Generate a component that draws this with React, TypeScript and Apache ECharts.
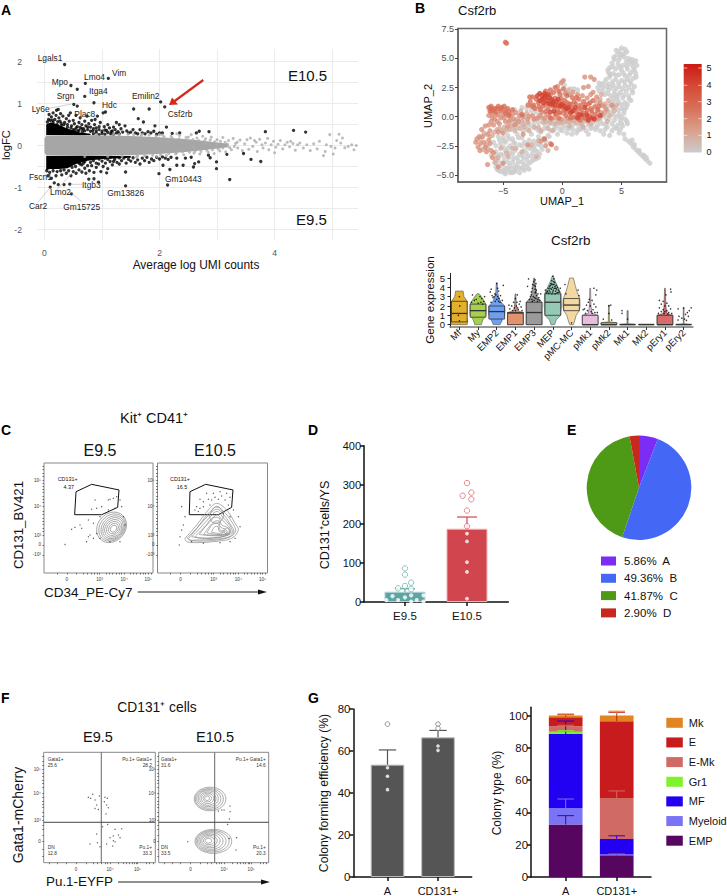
import React, { useEffect, useRef } from "react";
import * as echarts from "echarts";

const FONT = "Liberation Sans, Arial, sans-serif";

// ---------- Panel A ----------
const maGrayBand = [[0,.16,-.16],[.03,.24,-.24],[.6,.25,-.25],[1.5,.23,-.23],[2,.2,-.2],[2.5,.15,-.15],[2.9,.09,-.09],[3.2,.04,-.04]];
const maBlackUpper = [[.03,.25,.5],[.1,.25,.55],[.2,.25,.52],[.32,.25,.45],[.45,.25,.38],[.62,.25,.31],[.8,.25,.28]];
const maBlackLower = [[.03,-.25,-.58],[.1,-.25,-.56],[.25,-.25,-.56],[.4,-.25,-.54],[.55,-.25,-.44],[.75,-.25,-.36],[1,-.25,-.32],[1.5,-.25,-.29]];
const maGrayDots = [2.05,.25,2.12,-.24,2.2,.22,2.28,-.2,2.35,.24,2.42,-.22,2.5,.2,2.55,.26,2.6,-.18,2.65,.18,2.7,-.2,2.75,.22,2.8,.16,2.85,-.16,2.9,.2,2.95,-.19,3,.14,3.05,-.13,3.1,.19,3.15,-.15,3.2,.12,3.25,-.1,3.28,.17,3.32,.05,3.36,-.06,3.4,.13,3.44,-.12,3.48,.04,3.52,.14,3.55,-.09,3.58,.18,3.62,-.02,3.65,.12,3.68,.08,3.7,-.14,3.74,.15,3.78,.02,3.8,-.06,3.84,.06,3.88,.17,3.9,-.1,3.94,.02,3.98,.1,4.0,-.17,4.02,-.04,4.06,.03,4.1,.12,4.14,-.08,4.18,.02,4.22,.08,4.26,-.03,4.28,.1,4.32,.05,4.36,-.11,4.4,.02,4.44,.06,4.5,-.06,4.56,.02,4.62,-.12,4.68,.04,4.74,-.08,4.78,.1,4.85,-.24,4.88,-.14,4.9,.02,4.96,.26,4.98,-.02,5.02,-.2,5.05,-.06,5.08,.12,5.12,.27,5.15,.06,5.18,.18,5.22,-.05,5.28,-.02,5.34,.02,5.38,-.1,5.42,0,1.95,-.26,1.7,.27,2.3,.28,2,.26,1.6,-.27,1.3,.26,
1.55,.26,1.62,-.25,1.68,.24,1.74,-.24,1.82,.25,1.88,-.23,1.94,.23,2.02,-.22,2.08,.21,2.16,-.19,2.22,.18,2.3,-.17,2.34,.16,2.4,-.15,2.46,.19,2.52,-.16,2.58,.14,2.62,-.13,2.68,.12,2.72,-.14,2.78,.11,2.82,-.11,2.88,.13,2.92,-.1,2.96,.09,3.02,-.08,3.06,.1,3.1,-.06,3.14,.08,3.18,.03,3.22,-.05,3.3,-.02,3.35,.08,2.15,.12,2.4,.08,2.6,-.05,2.8,.05,3.0,.02,1.2,.27,1.35,-.26,1.45,.27,1.1,-.26,.9,.26,.7,-.26];
const maBlackDots = [.35,1.93,1.11,1.6,.71,1.48,.46,1.43,.57,1.34,.7,1.17,.86,1.02,2.02,1.04,2.09,.92,.51,.98,.57,.94,1.55,.87,1.82,.87,.21,.84,.24,.86,1.63,.64,1.72,.56,1.92,.47,2.12,.44,2.86,.33,2.69,.34,2.64,.3,3.84,.33,4.33,.36,4.54,.32,2.35,.3,2.22,.29,2.05,.3,
.08,.74,.1,.6,.12,.68,.15,.55,.18,.62,.2,.72,.22,.5,.25,.66,.27,.58,.3,.48,.32,.7,.35,.55,.38,.64,.4,.5,.43,.58,.45,.78,.47,.47,.5,.6,.52,.52,.55,.72,.57,.45,.6,.55,.62,.43,.65,.5,.68,.4,.7,.58,.72,.47,.75,.38,.77,.52,.8,.44,.82,.6,.84,.35,.87,.5,.9,.42,.92,.7,.95,.38,.97,.55,1,.34,1.02,.78,1.04,.45,1.06,.8,1.08,.36,1.1,.5,1.13,.42,1.16,.33,1.2,.44,1.23,.38,1.25,.55,1.28,.33,1.3,.5,1.33,.4,1.36,.32,1.4,.47,1.43,.35,1.46,.3,1.5,.32,1.54,.38,1.58,.3,1.62,.28,1.66,.38,1.7,.3,1.75,.28,1.8,.33,1.85,.3,1.9,.34,1.95,.27,2,.3,.85,.28,.9,.3,.95,.26,1,.29,1.05,.27,1.1,.31,1.15,.28,1.2,.27,1.25,.3,1.3,.28,.5,.38,.55,.42,.6,.36,.65,.4,.7,.35,.75,.44,.8,.34,.85,.4,.9,.35,.95,.45,1.05,.37,1.18,.35,.15,.78,.28,.76,.42,.72,.62,.66,.74,.7,.88,.62,.05,.56,.07,.62,.14,.6,.23,.57,.29,.53,.34,.5,.4,.44,.46,.42,.53,.37,.58,.35,.66,.33,
2.14,-.94,1.41,-.96,3.22,-.81,1.99,-.67,1.41,-.63,2.18,-.57,2.99,-.55,2.99,-.39,2.85,-.23,2.88,-.29,3.17,-.21,3.46,-.19,3.59,-.33,3.76,-.38,2.59,-.51,2.68,-.39,2.61,-.43,2.41,-.47,2.3,-.47,2.15,-.33,2.06,-.47,.44,-.92,.34,-.93,.24,-.93,.17,-.89,.1,-.99,.47,-1.15,.77,-.8,.86,-.79,.94,-.87,1.08,-.65,
.06,-.72,.12,-.78,.2,-.72,.3,-.7,.38,-.66,.46,-.72,.5,-.62,.55,-.66,.6,-.58,.65,-.63,.7,-.54,.72,-.66,.78,-.6,.82,-.48,.86,-.64,.9,-.52,.94,-.44,.98,-.62,1.02,-.5,1.06,-.42,1.1,-.55,1.14,-.38,1.18,-.46,1.22,-.33,1.26,-.4,1.3,-.44,1.34,-.36,1.38,-.3,1.42,-.42,1.46,-.33,1.5,-.37,1.54,-.29,1.58,-.4,1.62,-.34,1.66,-.44,1.7,-.3,1.74,-.36,1.78,-.28,1.82,-.4,1.86,-.32,1.9,-.36,1.95,-.28,2,-.32,2.05,-.27,2.1,-.3,2.2,-.28,2.3,-.3,.6,-.42,.65,-.46,.7,-.38,.75,-.48,.8,-.4,.85,-.36,.9,-.42,.95,-.32,1,-.37,1.05,-.3,1.1,-.33,1.15,-.28,1.2,-.38,1.3,-.29,2.45,-.3,2.55,-.28,.04,-.6,.09,-.64,.15,-.6,.22,-.62,.28,-.6,.34,-.58,.42,-.6,.48,-.52,.54,-.5,.62,-.44,.68,-.42];
const geneLabels = [["Lgals1",37.7,58],["Vim",112,73],["Lmo4",84,77],["Mpo",51.7,82],["Itga4",89,91],["Srgn",56.7,96],["Emilin2",132,95.7],["Hdc",102,105],["Ly6e",31.7,109],["Plac8",74.3,113.7],["Csf2rb",167.7,114],["Fscn1",29,177],["Itgb3",82,185],["Lmo2",50,192],["Gm13826",107.3,193],["Car2",29,206],["Gm15725",63.3,206.7],["Gm10443",165,178.7]];

// ---------- Panel B UMAP (flat x,y pairs per expression level) ----------
const umapZero = [5.0,5.9,5.3,5.8,4.8,5.6,5.2,5.4,4.6,5.3,5.6,5.0,4.9,5.1,4.4,4.9,5.9,4.9,6.2,4.8,5.4,4.7,4.2,4.6,4.7,4.5,5.1,4.4,5.8,4.5,6.3,4.4,6.0,4.2,4.0,4.2,4.5,4.1,5.0,4.0,5.5,4.1,3.9,3.8,4.3,3.7,4.8,3.6,5.3,3.5,5.8,3.8,6.2,3.7,6.0,3.3,5.5,3.2,5.0,3.1,4.5,3.2,4.0,3.4,3.7,3.2,3.5,2.9,3.9,2.8,4.3,2.7,4.8,2.6,5.3,2.7,5.8,2.8,6.1,2.6,5.9,2.3,5.4,2.2,4.9,2.1,4.4,2.2,3.9,2.3,3.4,2.5,3.1,2.9,3.1,2.2,3.6,1.9,4.1,1.8,4.6,1.7,5.1,1.6,5.6,1.8,5.8,1.4,5.3,1.2,4.8,1.2,4.3,1.3,4.5,.8,5,.7,5.4,.8,5.2,.3,4.8,.2,5.3,-.2,4.9,-.3,5.5,-.6,5.1,-.8,4.7,-.7,4.4,-.3,
4.6,-1,4.2,-1.2,3.8,-.9,4.8,-1.4,5.2,-1.5,4,-1.6,3.5,-1.5,3.2,-1.2,3,-.7,3.4,-.6,2.8,-1.1,5.3,-1.9,5.6,-2.1,5.8,-2.3,6,-2.6,6.2,-2.8,6.4,-3,6.6,-3.2,6.8,-3.4,7,-3.6,7.2,-3.8,7.4,-4,5.9,-2,6.1,-2.4,6.5,-2.9,6.9,-3.3,7.1,-3.5,
2.6,-.5,2.2,-.7,1.8,-.4,1.4,-.8,1,-.6,.6,-1,.2,-.7,-.2,-1.1,-.6,-.9,-1,-1.2,-1.4,-.8,-1.8,-1.3,-2.2,-1,-2.6,-1.5,-3,-1.1,2,-1.2,1.2,-1.4,.4,-1.4,-.4,-1.5,2.4,-1,1.6,-1,.9,-1.1,0,-1.2,-.8,-.6,-1.2,-.3,-1.6,-.2,-2,-.5,-2.4,-.3,-2.8,-.6,-3.2,-.3,-3.6,-.7,-4,-.4,
-5.8,-2.2,-5.4,-1.7,-5,-1.8,-4.6,-1.6,-4.2,-1.9,-3.8,-1.5,-3.4,-1.8,-5.2,-2.3,-4.8,-2.2,-4.4,-2.5,-4,-2.3,-3.6,-2.4,-3.2,-2.2,-2.8,-2,-2.4,-2.1,-2,-1.7,-1.6,-1.9,-1.2,-1.6,-5.6,-3,-5.2,-3.2,-4.8,-2.9,-4.4,-3.1,-4,-2.9,-3.6,-3.2,-3.2,-2.9,-2.8,-2.7,-2.4,-2.6,-2,-2.4,-4.9,-3.7,-4.5,-3.5,-4.1,-3.6,-3.7,-3.8,-3.3,-3.5,-2.9,-3.4,-2.5,-3.1,-2.1,-3,-1.7,-2.8,-5.6,-4,-5.2,-4.2,-4.8,-4.4,-4.4,-4.2,-4,-4.3,-3.6,-4.4,-3.2,-4.1,-2.8,-4,-2.4,-3.7,-2,-3.5,-5.2,-4.7,-4.8,-4.9,-4.4,-4.8,-4,-4.7,-3.6,-4.8,-3.2,-4.6,-2.8,-4.5,-5.5,-4.5,-4.6,-4.6,-3.9,-4.5,-5,-2.6,-6,-3.3,
-4,.6,-3.4,.8,-3,.7,-2.6,.5,-3.2,.1,-2.2,.4,-1.8,.2,.7,2.4,1,2.4,1.3,2.3,0,3,.2,2.7,-.2,2.2,.1,1.9,3,1.5,3.3,1,3.6,.4,3.9,.9,4.1,.4,3.7,-.1,4.2,-.6,3.4,.2,4.4,1.9,4,1.1,1.5,-1.1,2.2,-1.5,.8,-1.5,-1.1,-1.7,-4.7,-1.2,-4.1,-.9,-3.3,-1.2,
4.55,5.7,5.45,5.55,4.95,5.35,4.35,5.1,4.75,4.85,5.25,5.1,5.7,4.75,6.05,4.6,5.45,4.35,4.85,4.25,4.25,4.3,3.85,4,4.05,3.6,4.55,3.55,5.15,3.75,5.65,3.55,6.1,4,6.25,3.4,5.75,3.05,5.25,3,4.75,2.9,4.25,3,3.75,2.6,4.1,2.5,4.55,2.45,5.1,2.4,5.6,2.5,5.95,2.05,5.65,1.55,5.2,1.85,4.75,1.9,4.3,1.6,3.85,2,3.45,2.2,3.3,2.75,3,2.5,5.5,1.05,5.05,1,4.65,1.45,4.2,.95,4.75,.55,5.25,.55,5,-.05,5.45,-.4,4.6,0,4.3,.15,3.95,-.2,4.4,-.9,4.9,-1.1,5,-.55,3.6,-1.1,3.2,-.4,3.7,-.7,2.9,-.9,2.5,-.85,2.1,-.45,
1.7,-.75,1.3,-1.15,.8,-.8,.4,-1,0,-.9,-.4,-.75,-.7,-1.1,-1.15,-.65,-1.55,-1.05,-2,-1.2,-2.4,-.65,-2.8,-.9,-3.1,-.6,-3.5,-.2,-3.9,-.95,-4.2,-.6,
-5.6,-2.5,-5.3,-2,-4.9,-2.05,-4.5,-1.9,-4.1,-2.2,-3.7,-1.8,-3.4,-2.5,-3,-2.5,-2.6,-2.7,-2.2,-2.3,-1.8,-2.5,-1.4,-2.1,-5.5,-3.3,-5,-3.3,-4.6,-2.7,-4.2,-3.2,-3.8,-3.5,-3.4,-3.3,-3,-3.15,-2.6,-3.4,-2.3,-2.85,-1.9,-3.2,-5.4,-3.8,-5,-4,-4.6,-3.9,-4.2,-3.9,-3.8,-4.1,-3.4,-3.9,-3,-3.7,-2.6,-3.85,-2.2,-3.6,-5.6,-4.3,-5,-4.6,-4.6,-4.4,-4.2,-4.5,-3.4,-4.4,-3,-4.3,-5.4,-4.6,-4.9,-4.8,-4.2,-4.8];
const umapLow = [-6.9,-1.9,-6.6,-1.4,-6.3,-2.7,-5.7,-1.3,-5.3,-1,-4.9,-.9,-4.4,-1.1,-4,-1.2,-3.6,-1,-3.2,-.9,-2.8,-1.2,-2.4,-.9,-2,-.9,-1.6,-.5,-1.2,-1,-.8,-1.2,-.4,-.4,0,-.5,.4,-.4,.8,-.3,1.2,-.5,1.6,-.6,2,-.2,2.4,-.6,2.8,-.3,3.2,-.1,3.6,.3,4,.1,4.4,.5,4.6,1,3.9,1.4,3.3,1.9,2.9,1.2,-5.6,-3.6,-5.2,-2.7,-4.6,-3.4,-4.2,-2.7,-3.4,-3,-2.6,-2.4,-2.2,-3.4,-1.8,-1.2,-3.8,-.2,-3.4,-.4,-4.4,-.3,.6,-.8,1.8,-.9,3.8,-.4,.5,2.3,-3,.3,-2.4,.8,-3.5,.5,
-6.7,-2.8,-6.4,-2.4,-6.1,-1.7,-5.9,-1.6,-5.5,-1.1,-5.1,-1.2,-4.7,-1.05,-4.3,-.8,-3.9,-.6,-3.3,-.7,-2.9,-.5,-2.2,-.2,-1.8,-.1,-1.4,-.4,-1,-.5,-.6,-.6,-.2,-.5,.2,-.3,.6,-.45,1,-.35,1.4,-.2,1.8,-.25,2.2,-.35,2.6,-.2,3,-.2,3.4,.1,3.8,.5,4.3,.8,3.6,1.1,3.2,1.5,.3,2.1,-.5,-2.7,-1.2,-2.9,-2,-2.05,-3.9,-2.7,-4.7,-3.1,-5.4,-3.5,-5.7,-3.9];
const umapMid = [-7.3,-2.2,-7.1,-2.6,-6.9,-2.3,-7,-1.7,-6.8,-1.1,-6.5,-.8,-6.6,-2.2,-6.2,-2,-6.4,-3,-6,-2.9,-5.9,-3.5,-6.1,-1.2,-5.8,-.7,-5.5,-.4,-5.9,-.1,-6.2,.1,-6,.4,-5.6,.2,-5.2,-.1,-4.8,-.4,-4.4,0,-4,-.7,-3.6,.1,-5.4,-1.3,-5,-1.4,-4.6,-.8,-6.3,-4.1,-5.4,-4.3,-5,-4,-3.3,-1.5,-2.9,-.2,-2.5,.1,-2.1,-.1,-1.7,.4,-1.3,.2,-.9,-.2,-.5,.2,-.1,-.2,-1,-2.3,-1.4,-2.5,-2.9,-2.4,-1.8,-2.1,3,.5,3.5,.9,4.2,1,2.6,2.1,2.2,2.6,1.8,2.5,2.7,3.2,1.9,3.4,2.4,3.4,-.1,2.9,.1,3.1,-.4,2.6,.6,1.9,
-7.2,-1.9,-6.95,-2.9,-6.7,-1.7,-6.5,-2.6,-6.3,-1.5,-6.1,-2.3,-5.8,-3.1,-6.2,-.7,-6,-.4,-5.7,-.2,-5.3,-.6,-4.9,-.1,-4.5,-.4,-4.1,-.2,-3.7,-.4,-5.9,.2,-5.4,.15,-5,.15,-4.6,.1,-4.2,.2,-3.9,.35,-3.3,0,-2.8,.05,-2.4,-.2,-1.9,.1,-1.5,-.1,-1.1,.05,-.7,-.1,-.3,.35,.1,.3,.5,-.1,.9,-.05,1.7,0,2.1,-.05,2.5,.3,2.9,-.05,3.3,.35,3.7,.65,2.9,1.7,2.4,1.9,3.2,1.2,.3,2,.9,2.1,1.3,1.9,1.7,1.8,2.1,1.6];
const umapHigh = [-6.2,.8,-6,.9,-5.7,.7,-5.4,.9,-5.1,.8,-4.9,.9,-4.6,.7,-6.1,.5,-5.6,.4,-5.2,.5,-4.8,.3,-4.5,.4,-4.2,.6,-2,1.2,-2.4,1,-2.7,1.3,-2.2,1.5,-2.5,1.7,-1.6,.9,-1.2,.7,-.8,.9,-.4,.6,0,.8,.4,.5,.8,.7,1.2,.4,1.6,.6,2,.3,2.4,.7,2.8,.2,3.1,.9,2.6,1.4,2.2,1.1,1.8,1.3,1.4,1.5,1,1.3,.6,1.1,.2,1.4,-.2,1.2,-.6,1.6,-1,1.9,-.6,2.5,-.3,2.2,.1,2.4,-1.4,2.2,.7,-.1,1.1,0,1.5,-.3,1.9,-.1,2.3,0,.3,.1,-.3,-.1,-1,-.1,-4.8,6.4,-4.7,6.3,-1.5,-1.9,-.9,-2.4,
-6,.7,-5.8,.55,-5.5,.7,-5.2,.7,-4.85,.55,-4.5,.15,-3.4,.2,-2.9,1,-2.6,.9,-2.3,.7,-1.95,.85,-1.4,1.1,-1.05,1.05,-.75,1.25,-.35,1,.05,1.1,.4,1.2,.75,1.05,1.15,1.1,1.55,1,1.95,1,2.35,1.2,2.75,.85,3,.6,2.5,.5,2.1,.55,1.75,.3,1.4,.75,1,.55,.6,.6,.15,.55,-.2,.35,-.6,.25,-1.4,.45,-1.85,.6,-2.75,1.7,-.2,1.9,.4,1.8,-.7,2.1,-1,2.3,-.1,1.55,.85,1.65,1.2,1.65];
const umapTop = [-1.9,2,-1.7,1.8,-1.5,1.6,-1.3,1.4,-1.6,1.2,-1.2,1.9,-.9,1.5,-.9,1.1,-.5,1.3,-.7,.5,-.2,.9,.2,.9,.7,.3,1.1,.8,1.4,.2,1.9,.8,2.2,-.3,2.7,-.2,3.2,.1,-2.1,1.8,-1.9,1.4,-1,.4,.5,.8,1.3,-.1,-1.5,2,-1.7,1.5,-1.4,1.8,-1.1,1.6,-.8,1.3,-.35,1.5,-.05,1.05,.35,.7,.85,.45,1.6,.15,2.1,.15,2.5,-.1,-1.15,1.15,-.6,.95];
const colorbarLabels = ["5","4","3","2","1","0"];
const exprColors = ["#cccccc","#d9a08c","#d8705a","#d44a35","#cc1a14"];

// ---------- Panel B violin ----------
const violinCats = ["Mf","My","EMP2","EMP1","EMP3","MEP","pMC-MC","pMk1","pMk2","Mk1","Mk2","pEry1","pEry2"];
const violinTicks = ["0","1","2","3","4","5"];
const violinColors = ["#e3b02c","#a8d04f","#6f9ff0","#e0936d","#9a9a9a","#96c9b5","#f3d9a0","#e8bcdc","#cfcd5a","#999999","#999999","#d86a6a","#999999"];
const violinProfiles = [
  [[0,.42],[.3,.45],[.8,.38],[1.2,.42],[2,.42],[2.5,.42],[3,.25],[3.6,.2]],
  [[0,.18],[.5,.25],[1,.42],[1.5,.44],[2.2,.42],[2.8,.25],[3.3,.06]],
  [[0,.18],[.5,.3],[1,.42],[1.5,.44],[2,.42],[2.5,.2],[3,.1],[3.5,.05],[4.5,.02]],
  [[0,.42],[1.3,.42],[1.5,.1],[2,.05],[3.3,.02]],
  [[0,.42],[2.4,.42],[3,.15],[4,.08],[5,.02]],
  [[0,.1],[.5,.18],[1,.42],[2,.46],[3.3,.44],[4,.28],[4.6,.14],[5.2,.03]],
  [[0,.1],[.5,.18],[1,.25],[1.5,.42],[2.1,.46],[2.8,.44],[3.5,.3],[4.2,.2],[5,.1]],
  [[0,.42],[1,.42],[1.2,.1],[2,.04],[3.9,.02]],
  [[0,.42],[.2,.42],[.3,.03],[2.1,.02]],
  [[0,.42],[.06,.42],[.1,.03],[1.5,.03]],
  [[0,.42],[.06,.42]],
  [[0,.42],[1,.42],[1.2,.1],[2,.05],[3.9,.02]],
  [[0,.42],[.05,.42],[.1,.02],[1.8,.02]],
];
const violinBoxes = [[.3,1.2,2.5],[.8,1.5,2.2],[.6,1.4,2],[0,1.25,1.3],[0,1.3,2.4],[1,2.4,3.3],[1.5,2.1,2.8],[0,0,1],[0,0,.2],[0,0,0],[0,0,0],[0,0,1],[0,0,0]];
const violinJitter = [
  [0,3,-.05,1,0,.4,.02,2],
  [-.3,3.2,.1,3,.2,2.8,-.2,2.6,.3,2.5,-.35,2.4,.35,3,0,2.3,.15,2.4,-.1,2.7,.25,2.2],
  [-.35,3.5,-.3,3.8,.35,4.2,0,4.4,-.1,3.3,.1,3.6,.2,3.1,-.2,2.9,0,2.7,.1,2.5,-.15,3,.3,2.6,-.3,2.4,.05,3.9,-.05,3.2,.12,2.8,-.08,2.5,.05,3,-.25,3.1,.18,2.4],
  [.1,3.2,0,2.8,-.1,2.4,.2,2.2,-.2,2,.3,1.9,-.3,1.7,.05,2,.15,1.6,-.15,1.5,.35,1.5,-.35,2.1,0,1.5,.25,2.5,.08,2.4,-.05,1.8,.12,1.8],
  [-.3,4.9,.05,4.8,.1,4.4,0,4.2,-.1,3.9,.12,3.7,-.15,3.5,.2,3.3,.05,3.4,-.05,3,-.2,3,.25,2.9,.1,2.8,-.25,2.7,.3,2.6,0,2.6,-.1,2.5,.35,3.3,-.35,4.1,.18,2.5,.05,3.8,-.02,4.6,-.08,4.3,.07,4.1,.14,3.1,-.12,2.7,.03,2.9,-.16,3.2,.2,2.7,.08,3.5],
  [0,5.2,.05,4.9,-.05,4.7,.1,4.5,-.1,4.4,.18,4.2,-.18,4.1,0,4.3,.25,4,-.25,3.9,.08,3.9,-.08,3.8,.3,3.7,-.3,3.6,.15,3.6,-.15,3.5,.35,3.5,-.35,3.4,0,3.5,.22,3.4,-.22,3.35,.4,3.9,-.4,3.7,.05,4.6,-.05,3.3,.12,3.3,-.02,4,.12,4.1,-.12,4.2,.2,3.8,-.2,3.7,.28,3.45,-.28,3.5,.02,3.7,.15,3.9,-.15,3.9,.06,4.3,-.06,4.35],
  [-.35,4.3,.35,3.7,-.3,3.3,.4,3.1,0,.2],
  [.2,3.9,.35,3.7,.3,3.2,-.05,2.7,.1,2.6,-.1,2.4,.2,2.2,-.2,2.1,0,2,.3,1.9,-.3,1.7,.15,1.6,-.15,1.5,.05,1.4,.25,1.3,-.25,1.2,.38,1.3,-.38,1.6,.1,1.2],
  [0,2,.1,2.1,0,1.2,-.3,.6,.15,.5],
  [-.3,1.5,-.3,1.2,0,.6],
  [],
  [.3,3.8,.32,3.5,.05,3.2,-.3,2.6,-.1,2.5,.1,2.3,-.2,2.2,0,2,.2,2,-.3,1.8,.3,1.7,-.1,1.6,.1,1.5,-.2,1.4,.2,1.3,0,1.4,-.05,1.2,.15,1.15,-.35,1.2,.36,1.2],
  [-.3,1.7,0,1.8,.4,1.8,.2,1.3,.1,1.1,-.25,.9,.25,.9,-.1,.7,.05,.6,.15,.45,-.3,.5,.3,1.5],
];

// ---------- Panel C ----------
const cGateLeft = [[29.4,73.9],[43.7,80.6],[68.8,75.5],[67.6,59.7],[52.9,53],[28.1,53],[29.4,73.9]];
const cGateRight = [[29.5,73.9],[43.8,80.6],[68.6,75.5],[67.4,59.7],[55.3,53],[28.9,53],[29.5,73.9]];
const cRingsLeft = [[62,41.5,15,12.5],[62.5,41.3,13.5,11],[63,41,12,9.6],[63.3,40.8,10.5,8.3],[63.5,40.6,8.8,7],[63.6,40.5,7,5.5],[63.7,40.4,5.2,4],[63.8,40.3,3.4,2.6]];
const cContoursRight = [
  [[25,31.5],[35.6,43.6],[46.2,57.3],[53.8,63.3],[62.9,57.3],[70.5,45.2],[73.5,39],[67.4,31.5],[50.8,28.5],[35.6,27.6],[26.5,28.5],[25,31.5]],
  [[27,32],[36,41],[46,54],[54,60],[62,54],[69,44],[71,38],[66,33],[50,30.5],[36,30],[29,30],[27,32]],
  [[28,31],[37,42],[46,52],[54,58],[61,52],[67,43],[69.5,38],[65,32.5],[50,29.5],[37,29],[30,29.5],[28,31]],
  [[31,33],[38,40],[47,50],[54,56],[60,50],[66,43],[68,37],[63,34],[50,32],[38,32],[31,33]],
  [[34,33],[40,39],[48,47],[54,53],[59,48],[65,42],[66.5,37],[61,33.5],[50,31.5],[40,31.5],[34,33]],
  [[38,35],[44,43],[50,50],[56,50],[58,44],[64,41],[65,36],[58,34],[48,34],[38,35]],
  [[42,35],[47,42],[52,47],[56,47],[57,42],[62,39.5],[64,36],[57,34.5],[48,34.5],[42,35]],
  [[45,36.5],[50,44],[55,45],[57,39],[62,38],[63,36],[55,35],[45,36.5]],
  [[49,37],[52,42],[55,42],[56,38],[60,37],[56,36],[49,37]],
  [[47,52],[52,60],[56,60],[60,52],[56,46],[50,46],[47,52]],
  [[60,39],[64,41],[66,37],[62,35.5],[60,39]],
];
const cDotsLeft = [46.8,66.4,66.7,69.4,63.6,67.9,59,66.4,48.3,58.8,52.9,60.3,43.7,57.9,59,57.3,65,58.8,69.7,66.4,71.3,60.3,60.5,67,40.7,48.2,33,43.6,28.4,41.5,25.4,39.7,34.6,40.6,42.2,34.5,48.3,36,45.3,31.5,40.7,33,39.1,28.5,19.3,26,51.4,31.5,60.5,28.5,74.3,43.6,72.8,51.2,51.4,51.2,45.3,45.2,69.7,28.5];
const cDotsRight = [44.7,72.4,50.8,72.4,56.8,73.9,62.9,72.4,65.9,68.8,58.3,70,52.3,68.8,46.2,67,41.7,64.8,38.6,67,35.6,60.3,34,57.3,38.6,58.8,41.7,60.3,37.1,55.8,49.2,66.4,55.3,67,61.4,66.4,64.4,61.8,47.7,61.8,22,60.3,25,51.2,22,39,23.5,43.6,20.5,33,19.8,25.5,69,57.3,73.5,51.2,75,42,70.5,31.5,66,28.5,31,28.5,41.7,27,56.8,27.6,59.8,54.2,66,51.2];
const cYLabels: Record<string,string> = {"84.5":"10⁵","60.9":"10⁴","34.5":"10³","25.5":"0","16.4":"-10³"};
const cXLabels: Record<string,string> = {"21":"0","51":"10³","73.5":"10⁴","95.5":"10⁵"};
const cYTicks = [16.4,25.5,34.5,38,41,44,47,50,53,56,60.9,64,67,70,73,76,79,82,84.5,88,91,94,97];
const cXTicks = [12,21,30,36,40,43,46,49,51,57,60,63,66,69,71,73.5,79,82,85,88,91,93,95.5,98];

// ---------- Panel D ----------
const dCats = ["E9.5","E10.5"];
const dMeans = [26.4,187.6];
const dErr = [34,217.5];
const dOpen95 = [0,86,0,70,.1,49.5,0,41,-.11,35,.1,33];
const dFilled95 = [-.2,15,.1,17,0,12,.3,17,-.3,5,-.11,5,.19,5,.1,1,.3,1];
const dOpen105 = [1,304.5,1.07,280,.93,272,1.07,263,1,234,1,194];
const dFilled105 = [1,175,1,155,1,102,1,77,1,8.5];

// ---------- Panel E ----------
const pieNames = ["A","B","C","D"];
const pieValues = [5.86,49.36,41.87,2.9];
const pieColors = ["#7b2cf5","#4567f5","#4e9a17","#c8281e"];

// ---------- Panel F ----------
const fRingsTop = [[46.7,57.7,14.4,10.7],[46,57.7,12.8,9.5],[45.5,57.8,11,8.4],[45,58,9.2,7.2],[44.7,58,7.4,6],[44.4,58.2,5.6,4.7],[44.2,58.3,3.8,3.3],[44,58.3,2.2,2]];
const fRingsBottom = [[49.7,19.3,16.7,10.9],[49,19.4,15,9.8],[48.2,19.5,13,8.7],[47.5,19.6,11,7.5],[46.8,19.7,9,6.2],[46.2,19.8,7,5],[45.7,19.9,5,3.6],[45.2,19.9,3,2.2]];
const fDotsLeft = [40,59.2,43.9,61.9,42.1,58.3,46,56.8,47.5,52.3,49.9,60.4,46,49.2,49,48.3,54.9,59.2,57,58.3,54.3,55.3,56.4,52.3,57.9,49.8,55.8,44.1,52.8,32.6,57.3,34.7,63.9,30.2,69.9,30.8,59.4,22.7,62.4,24.2,66.9,25.1,63.9,19,68.4,22.7,62.4,19.9,56.4,16.9,47.5,26,41.5,16.9,48.1,18.1,50.4,14.5,61.8,15.1];
const fDotsRight = [64.8,51.4,64.8,46.2,59.4,47.7,54.2,46.8,64.2,39.6,62.7,34.7,70.9,22.7,70.3,11.5,26.4,19,57.3,47.7,64.2,22];
const fYLabels: Record<string,string> = {"84.5":"10⁵","63":"10⁴","38.5":"10³","19":"0"};
const fXLabels: Record<string,string> = {"29":"0","59.5":"10⁴","84":"10⁵"};
const fYTicks = [6,12,19,25,30,34,38.5,42,46,50,53,56,59,63,68,72,75,78,81,84.5,88,92,96];
const fXTicks = [5,12,20,29,38,44,48,52,55,57,59.5,67,71,74,77,79,81,82.5,84,92,95,98];
const fQuadrants = [
  [["Gata1+",0,"25.6"],["Pu.1+ Gata1+",1,"28.2"],["DN",0,"12.8"],["Pu.1+",1,"33.3"]],
  [["Gata1+",0,"31.6"],["Pu.1+ Gata1+",1,"14.6"],["DN",0,"33.5"],["Pu.1+",1,"20.3"]],
];

// ---------- Panel G ----------
const gCats = ["A","CD131+"];
const gEffMeans = [53.5,66.5];
const gEffErr = [60.5,69.8];
const gEffOpen = [0,72.8,1,72.8,1,70.8];
const gEffFilled = [0,52,0,48,0,41.6,1,62.4,1,60.3];
const gTypes = ["EMP","Myeloid","MF","Gr1","E-Mk","E","Mk"];
const gTypeColors = ["#57065f","#7b73f5","#2200f2","#7ef22a","#d06a65","#c81b1e","#e08520"];
const gTypeValues = [[32.5,13.5],[10.3,.5],[45.8,9.5],[1.4,0],[3.3,25.5],[5.7,47.5],[1,3.5]];
const gTypeTops = [[38,14.8],[48.3,14.2],[96.6,25.5],[90.6,0],[94,53.3],[100.5,102],[101,102.7]];
const gLegendOrder = ["Mk","E","E-Mk","Gr1","MF","Myeloid","EMP"];

// ---------- helpers ----------
const pairs = (flat: number[]) => {
  const out: number[][] = [];
  for (let i = 0; i < flat.length; i += 2) out.push([flat[i], flat[i + 1]]);
  return out;
};
const withV = (flat: number[], v: number) => pairs(flat).map((p) => [p[0], p[1], v]);

function buildOption() {
  const series: any[] = [];
  const at = (g: number) => ({ coordinateSystem: "cartesian2d", xAxisIndex: g, yAxisIndex: g, clip: false, silent: true, z: 3 });
  const custom = (g: number, draw: (api: any) => any[], z = 3) =>
    series.push({ ...at(g), type: "custom", z, data: [[0, 0]], renderItem: (_p: any, api: any) => ({ type: "group", children: draw(api) }) });
  const dots = (g: number, data: number[][], size: number, color: string) =>
    series.push({ ...at(g), type: "scatter", data, symbolSize: size, itemStyle: { color }, z: 5 });
  const band = (api: any, rows: number[][], fill: string) => {
    const top = rows.map((r) => api.coord([r[0], r[1]]));
    const bot = rows.map((r) => api.coord([r[0], r[2]])).reverse();
    return { type: "polygon", shape: { points: top.concat(bot) }, style: { fill } };
  };
  const errs = (g: number, rows: number[][], color: string, cap: number, w = 1.2) =>
    custom(g, (api) => rows.flatMap((r) => {
      const a = api.coord([r[0], r[1]]); const b = api.coord([r[0], r[2]]);
      return [
        { type: "line", shape: { x1: a[0], y1: a[1], x2: b[0], y2: b[1] }, style: { stroke: color, lineWidth: w } },
        { type: "line", shape: { x1: b[0] - cap, y1: b[1], x2: b[0] + cap, y2: b[1] }, style: { stroke: color, lineWidth: w } },
      ];
    }), 4);
  const rings = (g: number, list: number[][], rot = 0) =>
    custom(g, (api) => list.map((r) => {
      const c = api.coord([r[0], r[1]]);
      const s = api.size([r[2], r[3]]);
      return { type: "ellipse", x: c[0], y: c[1], rotation: rot, shape: { cx: 0, cy: 0, rx: s[0], ry: s[1] }, style: { fill: "none", stroke: "#8a8a8a", lineWidth: 0.7 } };
    }));
  const lines = (g: number, list: number[][][], stroke: string, lw: number, smooth = 0) =>
    custom(g, (api) => list.map((pts) => ({ type: "polyline", shape: { points: pts.map((p) => api.coord(p)), smooth }, style: { fill: "none", stroke, lineWidth: lw } })));
  const openDots = (g: number, data: number[][], stroke: string, size: number) =>
    series.push({ ...at(g), type: "scatter", data, symbolSize: size, z: 6, itemStyle: { color: "#fff", borderColor: stroke, borderWidth: 1 } });
  const whiteDots = (g: number, data: number[][], size: number) =>
    series.push({ ...at(g), type: "scatter", data, symbolSize: size, z: 6, itemStyle: { color: "#fff" } });

  // A
  custom(0, (api) => [band(api, maBlackUpper, "#000"), band(api, maBlackLower, "#000")], 2);
  dots(0, pairs(maBlackDots), 3.3, "#000");
  custom(0, (api) => [band(api, maGrayBand, "#a6a6a6")], 6);
  series.push({ ...at(0), type: "scatter", data: pairs(maGrayDots), symbolSize: 3, itemStyle: { color: "#ababab" }, z: 6 });

  // B UMAP
  const umapIndex = series.length;
  series.push({ ...at(1), type: "scatter", symbolSize: 5.2, z: 4, data: [...withV(umapZero, 0), ...withV(umapLow, 0.9), ...withV(umapMid, 1.7), ...withV(umapHigh, 2.6), ...withV(umapTop, 4.0)] });

  // B violin
  custom(2, (api) => violinCats.flatMap((_c, i) => {
    const prof = violinProfiles[i]; const box = violinBoxes[i]; const col = violinColors[i];
    const left = prof.map((p) => api.coord([i - p[1], p[0]]));
    const right = prof.map((p) => api.coord([i + p[1], p[0]])).reverse();
    const bl = api.coord([i - 0.42, box[2]]); const br = api.coord([i + 0.42, box[0]]);
    const m1 = api.coord([i - 0.42, box[1]]); const m2 = api.coord([i + 0.42, box[1]]);
    const out: any[] = [{ type: "polygon", shape: { points: left.concat(right) }, style: { fill: col, stroke: "#555", lineWidth: 0.6 } }];
    if (box[2] > 0) out.push({ type: "rect", shape: { x: bl[0], y: bl[1], width: br[0] - bl[0], height: br[1] - bl[1] }, style: { fill: col, stroke: "#333", lineWidth: 0.8 } });
    out.push({ type: "line", shape: { x1: m1[0], y1: m1[1], x2: m2[0], y2: m2[1] }, style: { stroke: "#333", lineWidth: 1.3 } });
    return out;
  }));
  dots(2, violinJitter.flatMap((fl, i) => pairs(fl).map((p) => [i + p[0], p[1]])), 1.5, "#000");

  // C
  lines(3, [cGateLeft], "#111", 1);
  rings(3, cRingsLeft, 0.85);
  dots(3, pairs(cDotsLeft), 1.3, "#333");
  lines(4, [cGateRight], "#111", 1);
  lines(4, cContoursRight, "#8a8a8a", 0.7, 0.35);
  dots(4, pairs(cDotsRight), 1.3, "#333");

  // D
  series.push({ ...at(5), type: "bar", barWidth: 41, z: 2, data: [
    { value: [0, dMeans[0]], itemStyle: { color: "#5fa4a4", borderColor: "#b5d6d6", borderWidth: 1 } },
    { value: [1, dMeans[1]], itemStyle: { color: "#d1464e", borderColor: "#eeb5b5", borderWidth: 1 } },
  ] });
  errs(5, [[0, dMeans[0], dErr[0]]], "#5fa4a4", 10);
  errs(5, [[1, dMeans[1], dErr[1]]], "#d1464e", 10);
  openDots(5, pairs(dOpen95), "#6fb3b3", 5.4);
  whiteDots(5, pairs(dFilled95), 4.2);
  openDots(5, pairs(dOpen105), "#dd6a70", 5.4);
  whiteDots(5, pairs(dFilled105), 3.8);

  // E
  series.push({ type: "pie", silent: true, center: [639, 487.7], radius: 52.3, startAngle: 90, clockwise: true, label: { show: false }, labelLine: { show: false },
    data: pieNames.map((name, i) => ({ name, value: pieValues[i], itemStyle: { color: pieColors[i] } })) });

  // F
  const quad = (g: number, vx: number) => custom(g, (api) => {
    const a = api.coord([vx, 0]), b = api.coord([vx, 100]), c = api.coord([0, 36.6]), d = api.coord([100, 36.6]);
    return [
      { type: "line", shape: { x1: a[0], y1: a[1], x2: b[0], y2: b[1] }, style: { stroke: "#666", lineWidth: 1 } },
      { type: "line", shape: { x1: c[0], y1: c[1], x2: d[0], y2: d[1] }, style: { stroke: "#444", lineWidth: 1 } },
    ];
  });
  quad(6, 51.6);
  dots(6, pairs(fDotsLeft), 1.3, "#333");
  quad(7, 50.9);
  rings(7, fRingsTop);
  rings(7, fRingsBottom);
  dots(7, pairs(fDotsRight), 1.3, "#333");

  // G left
  series.push({ ...at(8), type: "bar", barWidth: 33.6, z: 2, data: gEffMeans.map((v, i) => [i, v]), itemStyle: { color: "#555555", borderColor: "#bbbbbb", borderWidth: 1 } });
  errs(8, gEffMeans.map((v, i) => [i, v, gEffErr[i]]), "#555555", 8.7);
  openDots(8, pairs(gEffOpen), "#777", 4.6);
  whiteDots(8, pairs(gEffFilled), 3.6);

  // G right: stacked segments read through the chart's scales
  const halfBar = 0.33;
  const bottoms: number[][] = [];
  let run = [0, 0];
  gTypes.forEach((_n, t) => { bottoms.push(run); run = [run[0] + gTypeValues[t][0], run[1] + gTypeValues[t][1]]; });
  gTypes.forEach((name, t) => {
    series.push({ ...at(9), name, type: "custom", z: 2, data: [[0, 0]], itemStyle: { color: gTypeColors[t] },
      renderItem: (_p: any, api: any) => ({ type: "group", children: [0, 1].filter((i) => gTypeValues[t][i] > 0).map((i) => {
        const a = api.coord([i - halfBar, bottoms[t][i] + gTypeValues[t][i]]);
        const b = api.coord([i + halfBar, bottoms[t][i]]);
        return { type: "rect", shape: { x: a[0], y: a[1], width: b[0] - a[0], height: b[1] - a[1] }, style: { fill: gTypeColors[t] } };
      }) }) });
  });
  gTypes.forEach((_n, t) => {
    const rows = [0, 1].filter((i) => gTypeValues[t][i] > 0).map((i) => [i, bottoms[t][i] + gTypeValues[t][i], gTypeTops[t][i]]);
    errs(9, rows, gTypeColors[t], 8.3, 1);
  });

  // ---------- axes ----------
  const grids = [
    { left: 37, top: 49, width: 321, height: 191 },
    { left: 458, top: 28.5, width: 208.5, height: 153.5, show: true, borderColor: "#666", borderWidth: 1.5, backgroundColor: "#fff" },
    { left: 450, top: 273.3, width: 243, height: 53.7 },
    { left: 44, top: 463, width: 109, height: 110, show: true, borderColor: "#888", borderWidth: 1 },
    { left: 157.5, top: 463, width: 110, height: 110, show: true, borderColor: "#888", borderWidth: 1 },
    { left: 364, top: 445.7, width: 144.3, height: 156.3 },
    { left: 43.7, top: 752.3, width: 111.6, height: 110.4, show: true, borderColor: "#888", borderWidth: 1 },
    { left: 158.7, top: 752.3, width: 110, height: 110.4, show: true, borderColor: "#888", borderWidth: 1 },
    { left: 353.3, top: 709, width: 118.4, height: 171 },
    { left: 531, top: 707.3, width: 120, height: 172.7 },
  ].map((g) => ({ show: false, ...g }));

  const tickTxt = { fontFamily: FONT };
  const gg = { color: "#ebebeb", width: 1 };
  const flowAxis = (g: number, xy: "x" | "y", labels: Record<string, string>, ticks: number[]) => ({
    gridIndex: g, type: "value", min: 0, max: 100, position: xy === "x" ? "bottom" : "left",
    axisLine: { show: false }, splitLine: { show: false },
    axisTick: { show: true, length: 1.5, inside: false, lineStyle: { color: "#222", width: 0.6 }, customValues: ticks },
    axisLabel: { ...tickTxt, fontSize: 4.6, color: "#333", margin: xy === "x" ? 4 : 3, customValues: Object.keys(labels).map(Number), formatter: (v: number) => labels[String(v)] ?? "", hideOverlap: false },
  });
  const blackAxis = { show: true, onZero: false, lineStyle: { color: "#111", width: 1.5 } };
  const blackTick = { show: true, length: 4, lineStyle: { color: "#111", width: 1.5 } };
  const catAxis = (g: number, min: number, max: number, cats: string[], fs: number) => ({
    gridIndex: g, type: "value", min, max, splitLine: { show: false },
    axisLine: blackAxis, axisTick: { ...blackTick, customValues: [0, 1] },
    axisLabel: { ...tickTxt, fontSize: fs, color: "#111", margin: 8, customValues: [0, 1], formatter: (v: number) => cats[v] ?? "" },
  });
  const numAxis = (g: number, min: number, max: number, vals: number[], fs: number) => ({
    gridIndex: g, type: "value", min, max, splitLine: { show: false },
    axisLine: blackAxis, axisTick: { ...blackTick, customValues: vals },
    axisLabel: { ...tickTxt, fontSize: fs, color: "#111", margin: 3, customValues: vals, showMinLabel: true, showMaxLabel: true },
  });

  const xAxis = [
    { gridIndex: 0, type: "value", min: -0.13, max: 5.45, axisLine: { show: false }, splitLine: { show: true, lineStyle: gg },
      axisTick: { show: false, customValues: [0, 1, 2, 3, 4, 5] },
      axisLabel: { ...tickTxt, fontSize: 8.6, color: "#555", margin: 8, customValues: [0, 2, 4] } },
    { gridIndex: 1, type: "value", min: -8.8, max: 8.8, splitLine: { show: false }, axisLine: { show: true, onZero: false, lineStyle: { color: "#666", width: 1.5 } },
      axisTick: { show: true, length: 3, lineStyle: { color: "#444" }, customValues: [-5, 0, 5] },
      axisLabel: { ...tickTxt, fontSize: 9, color: "#4d4d4d", margin: 4, customValues: [-5, 0, 5], formatter: (v: number) => String(v).replace("-", "−") } },
    { gridIndex: 2, type: "value", min: -0.5, max: 12.5, splitLine: { show: false }, axisLine: { show: true, onZero: false, lineStyle: { color: "#777", width: 1.5 } },
      axisTick: { show: true, length: 3, lineStyle: { color: "#333" }, customValues: violinCats.map((_c, i) => i) },
      axisLabel: { ...tickTxt, fontSize: 9.5, color: "#111", rotate: 45, margin: 4, customValues: violinCats.map((_c, i) => i), formatter: (v: number) => violinCats[v] ?? "", showMinLabel: true, showMaxLabel: true } },
    flowAxis(3, "x", cXLabels, cXTicks),
    flowAxis(4, "x", cXLabels, cXTicks),
    catAxis(5, -0.66, 1.666, dCats, 11.5),
    flowAxis(6, "x", fXLabels, fXTicks),
    flowAxis(7, "x", fXLabels, fXTicks),
    catAxis(8, -0.677, 1.667, gCats, 11),
    catAxis(9, -0.68, 1.672, gCats, 11),
  ];
  const yAxis = [
    { gridIndex: 0, type: "value", min: -2.25, max: 2.3, axisLine: { show: false }, splitLine: { show: true, lineStyle: gg },
      axisTick: { show: false, customValues: [-2, -1.5, -1, -0.5, 0, 0.5, 1, 1.5, 2] },
      axisLabel: { ...tickTxt, fontSize: 8.6, color: "#555", margin: 15, customValues: [-2, -1, 0, 1, 2] } },
    { gridIndex: 1, type: "value", min: -5.6, max: 7.57, splitLine: { show: false }, axisLine: { show: true, onZero: false, lineStyle: { color: "#666", width: 1.5 } },
      axisTick: { show: true, length: 3, lineStyle: { color: "#444" }, customValues: [-5, -2.5, 0, 2.5, 5, 7.5] },
      axisLabel: { ...tickTxt, fontSize: 9, color: "#4d4d4d", margin: 4, customValues: [-5, -2.5, 0, 2.5, 5, 7.5], formatter: (v: number) => v.toFixed(1).replace("-", "−") } },
    { gridIndex: 2, type: "value", min: -0.25, max: 5.5, splitLine: { show: false }, axisLine: { show: true, onZero: false, lineStyle: { color: "#222", width: 1 } },
      axisTick: { show: true, length: 2.5, lineStyle: { color: "#222" }, customValues: [0, 1, 2, 3, 4, 5] },
      axisLabel: { show: false } },
    flowAxis(3, "y", cYLabels, cYTicks),
    flowAxis(4, "y", cYLabels, cYTicks),
    numAxis(5, 0, 400, [0, 100, 200, 300, 400], 11),
    flowAxis(6, "y", fYLabels, fYTicks),
    flowAxis(7, "y", fYLabels, fYTicks),
    numAxis(8, 0, 80, [0, 20, 40, 60, 80], 11.4),
    numAxis(9, 0, 105.1, [0, 20, 40, 60, 80, 100], 11.4),
  ];

  // ---------- texts & decorations ----------
  const g: any[] = [];
  const txt = (text: string, x: number, y: number, fontSize: number, o: any = {}) =>
    g.push({ type: "text", x, y, rotation: o.rot ?? 0, z: 20, style: { text, fontFamily: FONT, fontSize, fontWeight: o.bold ? "bold" : "normal", fill: o.fill ?? "#111", align: o.align ?? "center", verticalAlign: "middle" } });
  const UP = Math.PI / 2;
  [["A", 1, 10], ["B", 415, 8], ["C", 1, 430], ["D", 308, 430], ["E", 567, 430], ["F", 1, 698], ["G", 308, 698]].forEach((l) =>
    txt(l[0] as string, l[1] as number, l[2] as number, 14, { bold: true, align: "left", fill: "#000" }));

  txt("logFC", 5.5, 145, 11.2, { rot: UP });
  txt("Average log UMI counts", 196, 265, 11.9);
  txt("E10.5", 307.5, 75, 15);
  txt("E9.5", 311.5, 219, 15);
  geneLabels.forEach((l) => txt(l[0] as string, l[1] as number, l[2] as number, 8.4, { align: "left", fill: "#222" }));
  [[49.3,108.3,71.7,104],[38.3,201.7,50,187.7],[81.7,201.7,71.7,193.3],[82,184.3,70.7,184.3],[56.7,190,71.7,173.3]].forEach((s) =>
    g.push({ type: "line", z: 15, shape: { x1: s[0], y1: s[1], x2: s[2], y2: s[3] }, style: { stroke: "#bbb", lineWidth: 0.7 } }));
  g.push({ type: "line", z: 15, shape: { x1: 203.3, y1: 80, x2: 174, y2: 101.5 }, style: { stroke: "#d42a1e", lineWidth: 2.2 } });
  g.push({ type: "polygon", z: 15, shape: { points: [[169, 105], [172, 97.5], [178, 104.5]] }, style: { fill: "#d42a1e" } });

  txt("Csf2rb", 458, 10, 13, { align: "left" });
  txt("UMAP_1", 562, 201, 11);
  txt("UMAP_2", 428, 106, 11, { rot: UP });
  g.push({ type: "rect", z: 10, shape: { x: 683.7, y: 64, width: 18, height: 88.5 }, style: { fill: { type: "linear", x: 0, y: 1, x2: 0, y2: 0, colorStops: exprColors.map((color, i) => ({ offset: i / (exprColors.length - 1), color })) } } });
  colorbarLabels.forEach((l, i) => {
    const y = [68, 85.3, 101.7, 118.7, 135.3, 151.8][i];
    txt(l, 709, y, 9, { align: "center" });
    if (i < 5) {
      g.push({ type: "line", z: 11, shape: { x1: 683.7, y1: y, x2: 687.3, y2: y }, style: { stroke: "#fff", lineWidth: 0.6 } });
      g.push({ type: "line", z: 11, shape: { x1: 698.1, y1: y, x2: 701.7, y2: y }, style: { stroke: "#fff", lineWidth: 0.6 } });
    }
  });
  txt("Csf2rb", 570.7, 240, 13.4);
  txt("Gene expression", 429, 300, 11.6, { rot: UP });
  violinTicks.forEach((l, i) => txt(l, 445, 324.7 - i * 9.33, 9.5, { align: "right" }));

  txt("Kit⁺ CD41⁺", 154, 418, 14.5);
  txt("E9.5", 100, 450, 16);
  txt("E10.5", 215, 450, 16);
  txt("CD131_BV421", 18, 525, 13.2, { rot: UP });
  txt("CD34_PE-Cy7", 44, 592, 13.5, { align: "left" });
  g.push({ type: "line", z: 15, shape: { x1: 137.7, y1: 592, x2: 262, y2: 592 }, style: { stroke: "#222", lineWidth: 1 } });
  g.push({ type: "polygon", z: 15, shape: { points: [[267, 592], [258, 589.5], [258, 594.5]] }, style: { fill: "#111" } });
  [[57.7, 68.7, "4.37"], [170, 182, "16.5"]].forEach((c) => {
    txt("CD131+", c[0] as number, 479.3, 5.4, { align: "left" });
    txt(c[2] as string, c[1] as number, 487.3, 5.4);
  });

  txt("CD131⁺cells/YS", 325, 525, 12.6, { rot: UP });

  txt("CD131⁺ cells", 157, 707, 13.8);
  txt("E9.5", 98, 737, 14.5);
  txt("E10.5", 215, 737, 14.5);
  txt("Gata1-mCherry", 18, 815, 14, { rot: UP });
  txt("Pu.1-EYFP", 46, 881, 13.4, { align: "left" });
  g.push({ type: "line", z: 15, shape: { x1: 118, y1: 882, x2: 265, y2: 882 }, style: { stroke: "#222", lineWidth: 1 } });
  g.push({ type: "polygon", z: 15, shape: { points: [[270, 882], [261, 879.5], [261, 884.5]] }, style: { fill: "#111" } });
  fQuadrants.forEach((panel, p) => {
    const lx = [47.7, 161][p], rx = [152, 265.7][p];
    panel.forEach((q, i) => {
      const x = q[1] === 0 ? lx : rx; const al = q[1] === 0 ? "left" : "right";
      const y0 = i < 2 ? 759.3 : 847.3;
      txt(q[0] as string, x, y0, 4.8, { align: al, fill: "#333" });
      txt(q[2] as string, x, y0 + 6.6, 4.8, { align: al, fill: "#333" });
    });
  });

  txt("Colony forming efficiency (%)", 324, 793, 12.2, { rot: UP });
  txt("Colony type (%)", 497, 793, 11.9, { rot: UP });

  const legend = [
    { left: 601, top: 555, orient: "vertical", itemWidth: 15, itemHeight: 9, itemGap: 5.3, selectedMode: false, padding: 0,
      data: pieNames.map((name) => ({ name, icon: "rect" })),
      formatter: (n: string) => `${pieValues[pieNames.indexOf(n)].toFixed(2)}%  ${n}`,
      textStyle: { fontFamily: FONT, fontSize: 11.5, color: "#111", padding: [0, 0, 0, 3] } },
    { left: 666.3, top: 717.3, orient: "vertical", itemWidth: 16.5, itemHeight: 10, itemGap: 8.65, selectedMode: false, padding: 0,
      data: gLegendOrder.map((name) => ({ name, icon: "rect", itemStyle: { color: gTypeColors[gTypes.indexOf(name)] } })),
      textStyle: { fontFamily: FONT, fontSize: 11, color: "#111", padding: [0, 0, 0, 1] } },
  ];

  return {
    animation: false,
    backgroundColor: "#fff",
    grid: grids,
    xAxis,
    yAxis,
    series,
    legend,
    graphic: g,
    visualMap: [{ show: false, type: "continuous", seriesIndex: umapIndex, dimension: 2, min: 0, max: 5, inRange: { color: exprColors } }],
  };
}

export default function App() {
  const ref = useRef<HTMLDivElement>(null);
  useEffect(() => {
    document.body.style.margin = "0";
    const chart = echarts.init(ref.current!, undefined, { renderer: "svg", width: 727, height: 896 });
    chart.setOption(buildOption() as any);
    return () => chart.dispose();
  }, []);
  return <div ref={ref} style={{ width: 727, height: 896 }} />;
}
